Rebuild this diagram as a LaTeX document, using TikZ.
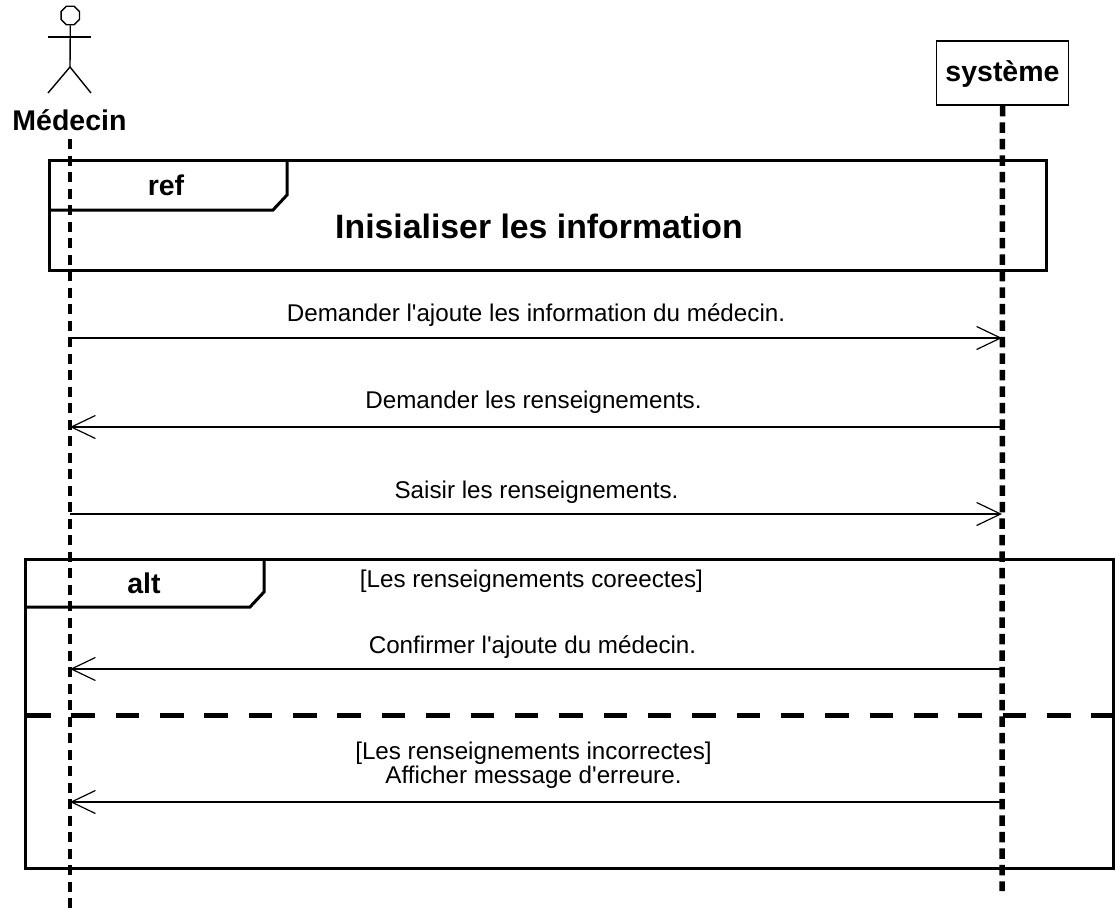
\documentclass[tikz,border=0pt]{standalone}
\usepackage{fontspec}
\setmainfont{Liberation Sans}[Ligatures=TeXOff]
\usetikzlibrary{arrows.meta,shapes.geometric}
\newcommand{\msgfont}{\fontsize{24.2}{24.5}\selectfont}
\newcommand{\lblfont}{\fontsize{28.5}{32}\bfseries\selectfont}
\tikzset{
 x=1pt,y=-1pt,
 msg/.style={draw,line width=1.1pt,-{Straight Barb[length=24pt,width=23pt,line width=1.2pt]}},
 msgtext/.style={font=\msgfont,inner sep=0pt,align=center,anchor=base},
 lbl/.style={font=\lblfont,inner sep=0pt,anchor=base},
 frame/.style={draw,line width=3pt,line join=miter},
 life/.style={line width=4pt,dash pattern=on 10pt off 6.5pt},
 lifeb/.style={line width=5.5pt,dash pattern=on 10.5pt off 6pt},
 actorline/.style={draw,line width=1.4pt},
}
\begin{document}
\begin{tikzpicture}
\useasboundingbox (0,0) rectangle (1120,913);
% coordinates
\coordinate (mTop) at (70,139);
\coordinate (mBot) at (70,913);
\coordinate (sBot) at (1002,891);
\foreach \n/\y in {a/338,b/427,c/514,d/669,e/802}{
  \coordinate (m\n) at (70,\y);
  \coordinate (s\n) at (1002,\y);
}
% frames
\draw[frame] (49,160) rectangle (1046,270);
\draw[frame] (49,210) -- (273,210) -- (287,195) -- (287,160);
\draw[frame] (25,559) rectangle (1113,868);
\draw[frame] (25,607) -- (250,607) -- (264,592) -- (264,559);
\coordinate (dL) at (27,715);
\coordinate (dR) at (1113,715);
\draw[line width=5pt,dash pattern=on 23.5pt off 20.85pt] (dL) -- (dR);
% actor
\node[draw,regular polygon,regular polygon sides=8,line width=1.4pt,minimum size=20pt,inner sep=0pt] (head) at (70.3,15.5) {};
\coordinate (hip) at (70,67);
\coordinate (shL) at (48,37);
\coordinate (shR) at (91,37);
\coordinate (ftL) at (48,93);
\coordinate (ftR) at (91,93);
\draw[actorline] (head.south) -- (hip);
\draw[actorline] (shL) -- (shR);
\draw[actorline] (ftL) -- (hip) -- (ftR);
\node[lbl] (medecin) at (69.5,130.5) {Médecin};
% system
\node[draw,line width=1.5pt,minimum width=132pt,minimum height=64pt,inner sep=0pt,font=\lblfont,text height=24pt,text depth=6.6pt] (sys) at (1002.5,73) {système};
% lifelines
\draw[life] (mTop) -- (mBot);
\draw[lifeb] (sys.south) -- (sBot);
% labels of frames
\node[lbl] (ref) at (166,195) {ref};
\node[lbl] (alt) at (144,593.5) {alt};
\node[font=\fontsize{33.8}{38}\bfseries\selectfont,inner sep=0pt,anchor=base] (title) at (539,238) {Inisialiser les information};
% messages
\draw[msg] (ma) -- (sa);
\draw[msg] (sb) -- (mb);
\draw[msg] (mc) -- (sc);
\draw[msg] (sd) -- (md);
\draw[msg] (se) -- (me);
\node[msgtext] (t1) at (536,321.7) {Demander l'ajoute les information du médecin.};
\node[msgtext] (t2) at (533.5,408.7) {Demander les renseignements.};
\node[msgtext] (t3) at (536.5,498) {Saisir les renseignements.};
\node[msgtext] (t4) at (531.5,587) {[Les renseignements coreectes]};
\node[msgtext] (t5) at (532.5,653) {Confirmer l'ajoute du médecin.};
\node[msgtext] (t6) at (533.5,783.5) {[Les renseignements incorrectes]\\Afficher message d'erreure.};
\end{tikzpicture}
\end{document}
